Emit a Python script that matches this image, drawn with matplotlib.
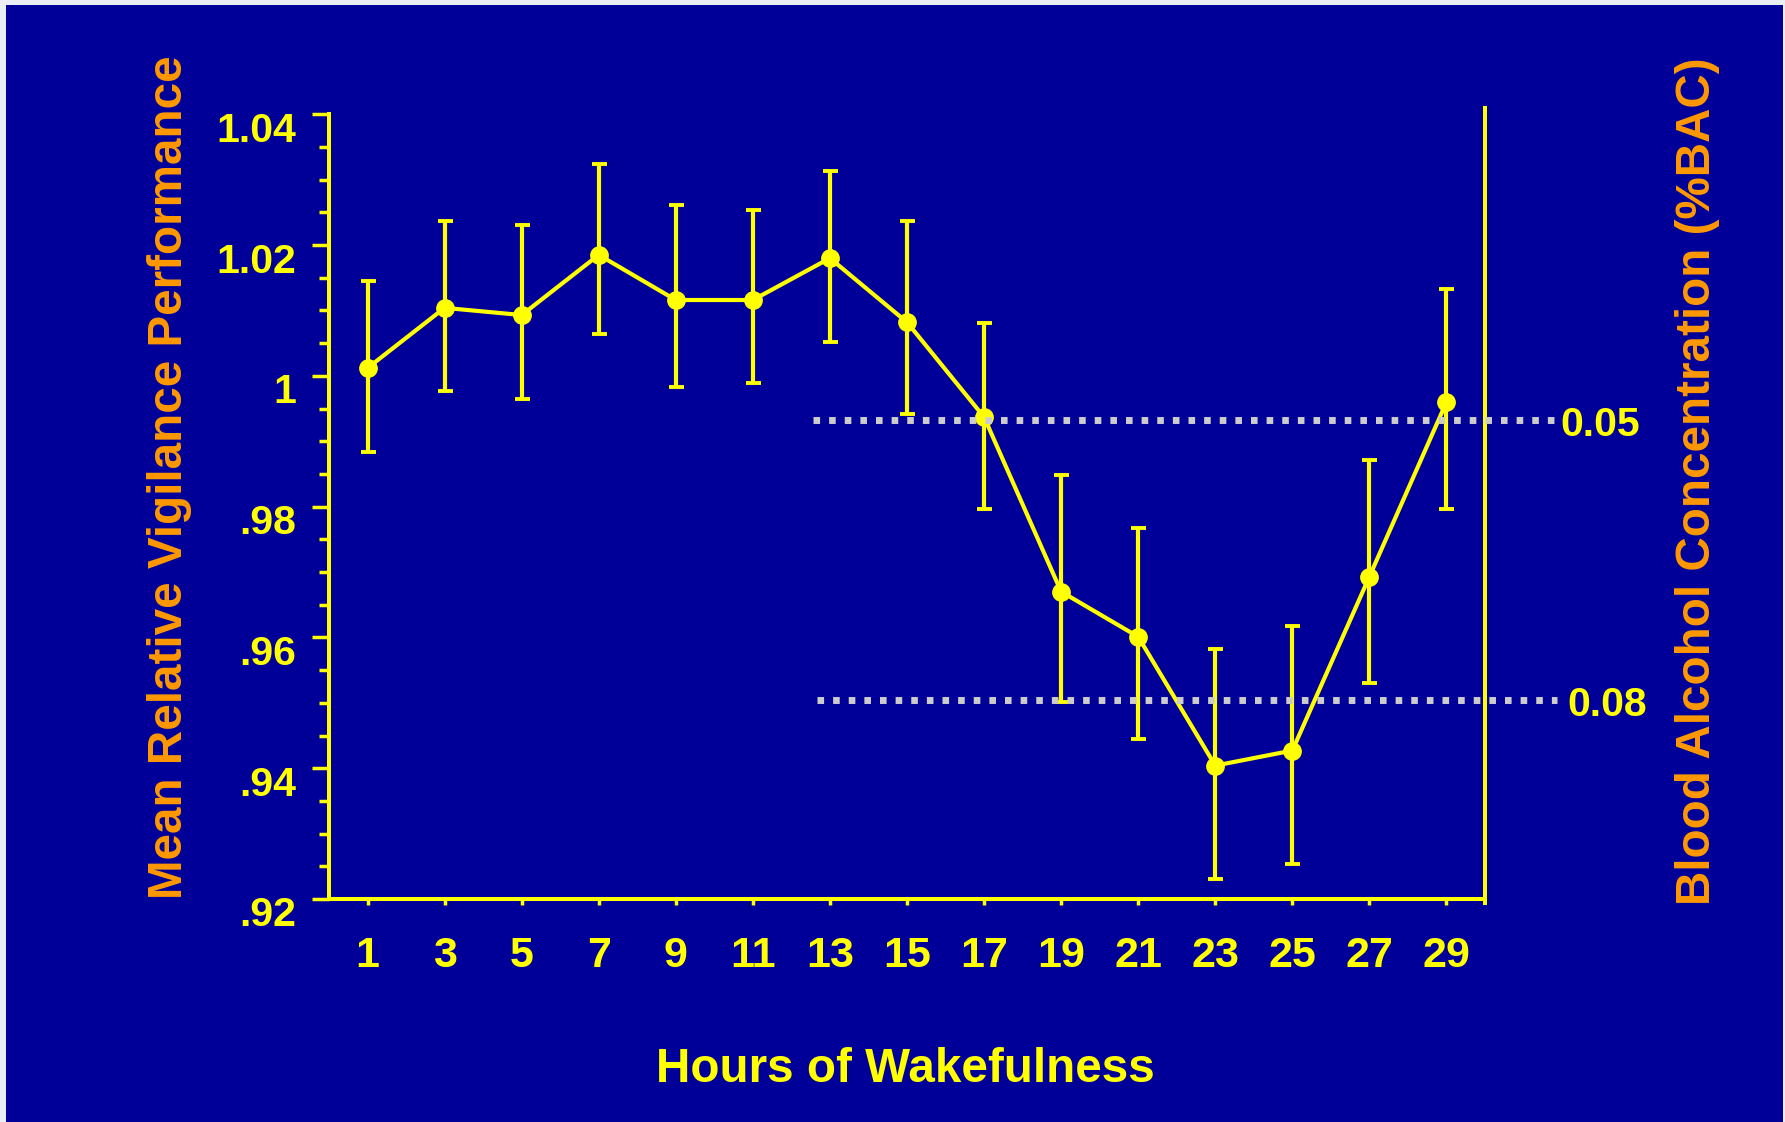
import matplotlib
matplotlib.use('Agg')
import numpy as np
import matplotlib.pyplot as plt
from matplotlib.patches import Rectangle
from matplotlib.transforms import ScaledTranslation

# Hours awake and mean relative vigilance performance
hours = [1, 3, 5, 7, 9, 11, 13, 15, 17, 19, 21, 23, 25, 27, 29]
performance = [1.0012, 1.0104, 1.0093, 1.0185, 1.0116, 1.0116, 1.0180, 1.0082,
               0.9937, 0.9670, 0.9601, 0.9404, 0.9427, 0.9693, 0.9960]
perf_upper = [1.0145, 1.0237, 1.0231, 1.0324, 1.0261, 1.0254, 1.0313, 1.0237,
              1.0081, 0.9849, 0.9768, 0.9582, 0.9617, 0.9872, 1.0133]
perf_lower = [0.9884, 0.9977, 0.9965, 1.0064, 0.9983, 0.9989, 1.0052, 0.9942,
              0.9797, 0.9502, 0.9444, 0.9230, 0.9253, 0.9531, 0.9797]

# Blood alcohol equivalents (performance level matching each %BAC)
bac_labels = ['0.05', '0.08']
bac_performance = [0.9933, 0.9504]
bac_start_hour = [12.56, 12.66]
bac_end_hour = 31.88
bac_label_hour = [31.95, 32.13]

ytick_values = [0.92, 0.94, 0.96, 0.98, 1.00, 1.02, 1.04]
ytick_labels = ['.92', '.94', '.96', '.98', '1', '1.02', '1.04']

BG = '#000099'
YELLOW = '#ffff00'
ORANGE = '#ff9900'
DOTS = '#cccccc'
FONT = 'Liberation Sans'

W, H = 1785, 1122
fig = plt.figure(figsize=(W / 100, H / 100), dpi=100, facecolor='#ebeef5')
fig.patches.append(Rectangle((6 / W, 0), (1783 - 6) / W, (H - 5) / H,
                             transform=fig.transFigure, facecolor=BG,
                             edgecolor='none', zorder=-5))

ax = fig.add_axes([329 / W, 1 - 899 / H, (1485 - 329) / W, (899 - 114.3) / H])
ax.set_zorder(2)
ax.patch.set_alpha(0)

y = np.array(performance)
yerr = [y - np.array(perf_lower), np.array(perf_upper) - y]
ax.errorbar(hours, performance, yerr=yerr, color=YELLOW, lw=3,
            elinewidth=3, capsize=5.4, capthick=2.8,
            marker='o', markersize=12.5, zorder=3)

# BAC reference lines, running out past the right axis
label_drop = ScaledTranslation(0, -0.16, fig.dpi_scale_trans)
for lvl, val, x0, xl in zip(bac_labels, bac_performance, bac_start_hour,
                            bac_label_hour):
    ax.plot([x0, bac_end_hour], [val, val], color=DOTS, lw=5,
            linestyle=(0, (0.95, 1.3)), dash_capstyle='butt',
            clip_on=False, zorder=4)
    ax.text(xl, val, lvl, color=YELLOW, fontsize=29.5,
            fontweight='bold', family=FONT, ha='left', va='baseline',
            transform=ax.transData + label_drop, clip_on=False)

ax.set_xlim(0, 30)
ax.set_ylim(0.92, 1.04)

for side in ['top', 'right']:
    ax.spines[side].set_visible(False)
for side in ['left', 'bottom']:
    ax.spines[side].set_color(YELLOW)
    ax.spines[side].set_linewidth(2.9)
ax.axvline(30, ymin=-0.005, ymax=1.008, color=YELLOW, lw=2.9, clip_on=False)

ax.set_xticks(hours)
ax.set_xticklabels([str(h) for h in hours])
ax.set_yticks(ytick_values)
ax.set_yticklabels(ytick_labels)
ax.set_yticks(np.arange(0.92, 1.0401, 0.005), minor=True)
ax.tick_params(axis='x', colors=YELLOW, length=4.3, width=2.5, pad=22,
               labelsize=31)
ax.tick_params(axis='y', which='major', colors=YELLOW, length=12, width=2.5,
               pad=11.5, labelsize=29.5)
ax.tick_params(axis='y', which='minor', colors=YELLOW, length=7.2, width=2.5)
for lab in ax.get_xticklabels() + ax.get_yticklabels():
    lab.set_fontweight('bold')
    lab.set_family(FONT)
shift = ScaledTranslation(0, -0.125, fig.dpi_scale_trans)
for lab in ax.get_yticklabels():
    lab.set_transform(lab.get_transform() + shift)

fig.text(905 / W, 1 - 1081.7 / H, 'Hours of Wakefulness', color=YELLOW,
         fontsize=34.3, fontweight='bold', family=FONT, ha='center',
         va='baseline')
fig.text(182 / W, 1 - 477 / H, 'Mean Relative Vigilance Performance',
         color=ORANGE, fontsize=34.3, fontweight='bold', family=FONT,
         rotation=90, rotation_mode='anchor', ha='center', va='baseline')
fig.text(1710 / W, 1 - 481 / H, 'Blood Alcohol Concentration (%BAC)',
         color=ORANGE, fontsize=34.3, fontweight='bold', family=FONT,
         rotation=90, rotation_mode='anchor', ha='center', va='baseline')

fig.savefig('out.png', dpi=100, facecolor=fig.get_facecolor())
